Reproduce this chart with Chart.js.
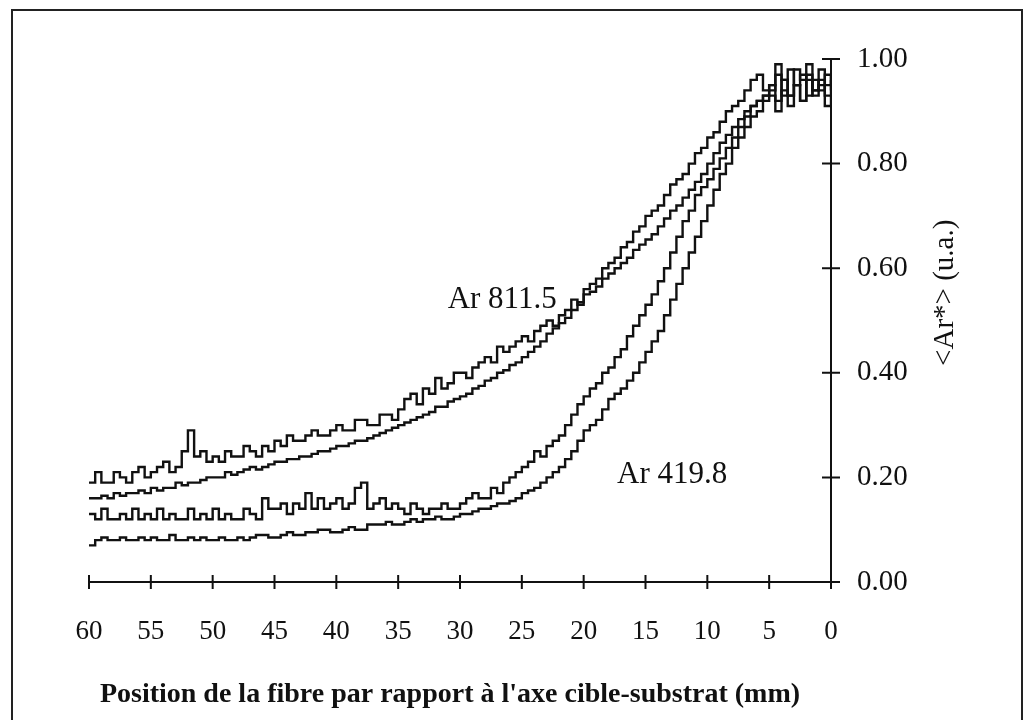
<!DOCTYPE html>
<html>
<head>
<meta charset="utf-8">
<script src="https://cdn.jsdelivr.net/npm/chart.js@4"></script>
<style>
    html, body { margin: 0; padding: 0; background: #fff; }
    #wrap { position: relative; width: 1023px; height: 720px; overflow: hidden; }
    #frame { position: absolute; left: 11px; top: 9px; width: 1008px; height: 740px; border: 2px solid #222; }
    canvas { position: absolute; left: 0; top: 0; }
</style>
</head>
<body>
<div id="wrap">
    <div id="frame"></div>
    <canvas id="profileChart" width="1023" height="720"></canvas>
</div>
<script>
// fibre position (mm), 60 -> 0 in half-mm steps
const positionMm = [
    60, 59.5, 59, 58.5, 58, 57.5, 57, 56.5, 56, 55.5,
    55, 54.5, 54, 53.5, 53, 52.5, 52, 51.5, 51, 50.5,
    50, 49.5, 49, 48.5, 48, 47.5, 47, 46.5, 46, 45.5,
    45, 44.5, 44, 43.5, 43, 42.5, 42, 41.5, 41, 40.5,
    40, 39.5, 39, 38.5, 38, 37.5, 37, 36.5, 36, 35.5,
    35, 34.5, 34, 33.5, 33, 32.5, 32, 31.5, 31, 30.5,
    30, 29.5, 29, 28.5, 28, 27.5, 27, 26.5, 26, 25.5,
    25, 24.5, 24, 23.5, 23, 22.5, 22, 21.5, 21, 20.5,
    20, 19.5, 19, 18.5, 18, 17.5, 17, 16.5, 16, 15.5,
    15, 14.5, 14, 13.5, 13, 12.5, 12, 11.5, 11, 10.5,
    10, 9.5, 9, 8.5, 8, 7.5, 7, 6.5, 6, 5.5,
    5, 4.5, 4, 3.5, 3, 2.5, 2, 1.5, 1, 0.5,
    0
];

// Ar 811.5 line, two runs
const ar811RunA = [
    0.19, 0.21, 0.19, 0.19, 0.21, 0.20, 0.19, 0.21, 0.22, 0.20,
    0.21, 0.22, 0.23, 0.21, 0.22, 0.25, 0.29, 0.24, 0.25, 0.23,
    0.24, 0.23, 0.25, 0.24, 0.24, 0.26, 0.25, 0.24, 0.26, 0.25,
    0.27, 0.26, 0.28, 0.27, 0.27, 0.28, 0.29, 0.28, 0.28, 0.29,
    0.30, 0.29, 0.29, 0.31, 0.31, 0.30, 0.30, 0.32, 0.32, 0.31,
    0.33, 0.35, 0.36, 0.34, 0.37, 0.36, 0.39, 0.37, 0.38, 0.40,
    0.40, 0.39, 0.41, 0.42, 0.43, 0.42, 0.45, 0.44, 0.45, 0.46,
    0.47, 0.46, 0.48, 0.49, 0.50, 0.49, 0.51, 0.52, 0.54, 0.53,
    0.56, 0.57, 0.58, 0.60, 0.61, 0.62, 0.64, 0.65, 0.67, 0.68,
    0.70, 0.71, 0.72, 0.74, 0.76, 0.77, 0.78, 0.80, 0.82, 0.83,
    0.85, 0.86, 0.88, 0.90, 0.91, 0.92, 0.94, 0.96, 0.97, 0.94,
    0.95, 0.99, 0.96, 0.93, 0.98, 0.96, 0.99, 0.94, 0.98, 0.95,
    0.97
];
const ar811RunB = [
    0.16, 0.16, 0.165, 0.16, 0.17, 0.165, 0.17, 0.17, 0.175, 0.17,
    0.18, 0.175, 0.18, 0.18, 0.19, 0.185, 0.19, 0.19, 0.195, 0.20,
    0.20, 0.20, 0.21, 0.205, 0.21, 0.215, 0.22, 0.215, 0.22, 0.225,
    0.23, 0.23, 0.235, 0.235, 0.24, 0.24, 0.245, 0.25, 0.25, 0.255,
    0.26, 0.26, 0.265, 0.27, 0.27, 0.275, 0.28, 0.285, 0.29, 0.295,
    0.30, 0.305, 0.31, 0.315, 0.32, 0.325, 0.335, 0.335, 0.345, 0.35,
    0.355, 0.36, 0.37, 0.375, 0.385, 0.39, 0.40, 0.405, 0.415, 0.42,
    0.43, 0.44, 0.45, 0.46, 0.475, 0.485, 0.495, 0.505, 0.52, 0.535,
    0.55, 0.555, 0.565, 0.58, 0.59, 0.60, 0.61, 0.62, 0.635, 0.645,
    0.655, 0.665, 0.68, 0.695, 0.71, 0.72, 0.735, 0.75, 0.765, 0.78,
    0.80, 0.82, 0.84, 0.855, 0.87, 0.885, 0.90, 0.91, 0.92, 0.93,
    0.95, 0.92, 0.96, 0.93, 0.95, 0.97, 0.93, 0.96, 0.94, 0.97,
    0.94
];

// Ar 419.8 line, two runs
const ar419RunA = [
    0.13, 0.12, 0.14, 0.12, 0.12, 0.13, 0.12, 0.14, 0.12, 0.13,
    0.12, 0.14, 0.12, 0.13, 0.12, 0.12, 0.14, 0.12, 0.13, 0.12,
    0.14, 0.12, 0.13, 0.12, 0.12, 0.14, 0.13, 0.12, 0.16, 0.14,
    0.14, 0.15, 0.13, 0.15, 0.14, 0.17, 0.14, 0.16, 0.14, 0.15,
    0.16, 0.14, 0.15, 0.18, 0.19, 0.14, 0.15, 0.16, 0.14, 0.15,
    0.14, 0.13, 0.15, 0.14, 0.13, 0.14, 0.14, 0.15, 0.14, 0.14,
    0.15, 0.16, 0.17, 0.16, 0.16, 0.18, 0.17, 0.19, 0.20, 0.21,
    0.22, 0.23, 0.25, 0.24, 0.26, 0.27, 0.28, 0.30, 0.32, 0.34,
    0.355, 0.37, 0.38, 0.40, 0.41, 0.43, 0.445, 0.47, 0.49, 0.51,
    0.53, 0.55, 0.575, 0.60, 0.63, 0.66, 0.69, 0.71, 0.74, 0.755,
    0.77, 0.79, 0.81, 0.83, 0.85, 0.87, 0.89, 0.91, 0.92, 0.93,
    0.94, 0.97, 0.93, 0.98, 0.95, 0.92, 0.97, 0.94, 0.96, 0.93,
    0.96
];
const ar419RunB = [
    0.07, 0.08, 0.085, 0.08, 0.08, 0.085, 0.08, 0.08, 0.085, 0.08,
    0.085, 0.08, 0.08, 0.09, 0.08, 0.08, 0.085, 0.08, 0.085, 0.08,
    0.08, 0.085, 0.08, 0.08, 0.085, 0.08, 0.085, 0.09, 0.09, 0.085,
    0.085, 0.09, 0.095, 0.09, 0.09, 0.095, 0.095, 0.10, 0.10, 0.095,
    0.095, 0.10, 0.105, 0.10, 0.10, 0.11, 0.11, 0.11, 0.115, 0.11,
    0.11, 0.115, 0.12, 0.115, 0.12, 0.12, 0.125, 0.12, 0.12, 0.125,
    0.13, 0.13, 0.135, 0.14, 0.14, 0.145, 0.15, 0.15, 0.155, 0.16,
    0.17, 0.175, 0.18, 0.19, 0.20, 0.21, 0.22, 0.235, 0.25, 0.27,
    0.29, 0.30, 0.31, 0.33, 0.35, 0.36, 0.37, 0.385, 0.40, 0.42,
    0.44, 0.46, 0.48, 0.51, 0.54, 0.57, 0.60, 0.63, 0.66, 0.69,
    0.72, 0.75, 0.78, 0.80, 0.83, 0.85, 0.87, 0.89, 0.90, 0.92,
    0.93, 0.90, 0.94, 0.91, 0.95, 0.92, 0.96, 0.93, 0.95, 0.91,
    0.93
];

const xTickStep = 5;
const yTickStep = 0.2;

// curve labels, placed in data units
const curveLabels = [
    { text: 'Ar 811.5', x: 31.0, y: 0.524 },
    { text: 'Ar 419.8', x: 17.3, y: 0.189 }
];

const xTitle = "Position de la fibre par rapport à l'axe cible-substrat (mm)";
const yTitle = '<Ar*> (u.a.)';

const SERIF = '"Liberation Serif", "Times New Roman", serif';
const INK = '#111';

function toPoints(values) {
    return values.map((v, i) => ({ x: positionMm[i], y: v }));
}

function lineSet(values) {
    return {
        data: toPoints(values),
        borderColor: INK,
        borderWidth: 2.4,
        pointRadius: 0,
        stepped: true,
        fill: false
    };
}

// ticks that cross both axes, plus the free text
const decorPlugin = {
    id: 'decor',
    afterDraw(chart) {
        const { ctx, scales: { x, y } } = chart;
        const axisY = y.getPixelForValue(0);
        const axisX = x.getPixelForValue(0);

        ctx.save();
        ctx.strokeStyle = INK;
        ctx.lineWidth = 2;
        ctx.beginPath();
        x.ticks.forEach(t => {
            const px = x.getPixelForValue(t.value);
            ctx.moveTo(px, axisY - 7);
            ctx.lineTo(px, axisY + 7);
        });
        y.ticks.forEach(t => {
            const py = y.getPixelForValue(t.value);
            ctx.moveTo(axisX - 9, py);
            ctx.lineTo(axisX + 9, py);
        });
        ctx.stroke();

        ctx.fillStyle = INK;
        ctx.textBaseline = 'alphabetic';
        ctx.textAlign = 'left';
        ctx.font = '31px ' + SERIF;
        curveLabels.forEach(l => {
            ctx.fillText(l.text, x.getPixelForValue(l.x), y.getPixelForValue(l.y));
        });

        // x title under the tick labels
        ctx.font = 'bold 28px ' + SERIF;
        ctx.textAlign = 'center';
        ctx.fillText(xTitle, (x.left + x.right) / 2 - 10, axisY + 120);

        // y title, rotated, right of the tick labels
        ctx.font = '29px ' + SERIF;
        ctx.translate(axisX + 114, y.getPixelForValue(0.553));
        ctx.rotate(-Math.PI / 2);
        ctx.textBaseline = 'middle';
        ctx.fillText(yTitle, 0, 0);
        ctx.restore();
    }
};

new Chart(document.getElementById('profileChart'), {
    type: 'line',
    data: {
        datasets: [
            lineSet(ar811RunA),
            lineSet(ar811RunB),
            lineSet(ar419RunA),
            lineSet(ar419RunB)
        ]
    },
    options: {
        responsive: false,
        animation: false,
        events: [],
        layout: { padding: { left: 89, top: 59, right: 0, bottom: 0 } },
        plugins: {
            legend: { display: false },
            tooltip: { enabled: false }
        },
        scales: {
            x: {
                type: 'linear',
                reverse: true,
                min: 0,
                max: 60,
                afterFit: s => { s.height = 138; },
                border: { display: true, color: INK, width: 2 },
                grid: { display: false, drawTicks: false },
                ticks: {
                    stepSize: xTickStep,
                    padding: 34,
                    color: INK,
                    font: { family: SERIF, size: 27 },
                    maxRotation: 0
                }
            },
            y: {
                position: 'right',
                min: 0,
                max: 1,
                afterFit: s => { s.width = 192; },
                border: { display: true, color: INK, width: 2 },
                grid: { display: false, drawTicks: false },
                ticks: {
                    stepSize: yTickStep,
                    padding: 26,
                    color: INK,
                    font: { family: SERIF, size: 29 },
                    callback: v => Number(v).toFixed(2)
                }
            }
        }
    },
    plugins: [decorPlugin]
});
</script>
</body>
</html>
